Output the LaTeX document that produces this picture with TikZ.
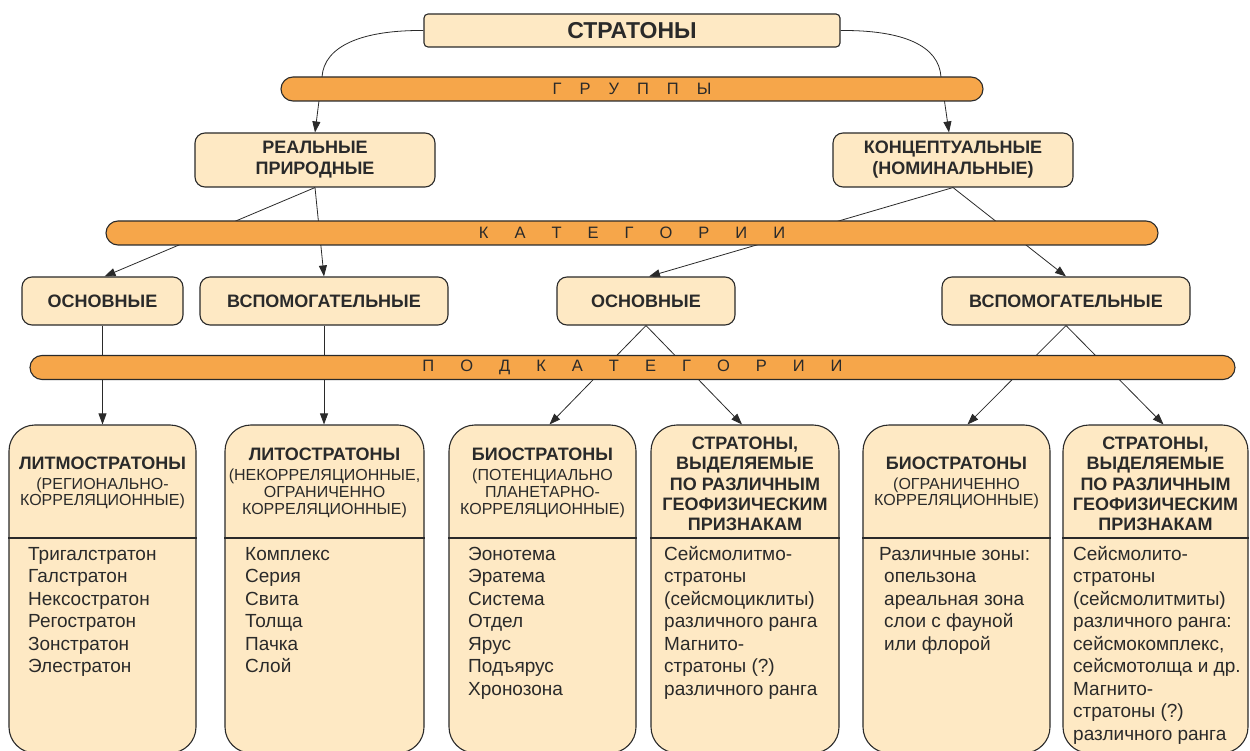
\documentclass[tikz,border=0pt]{standalone}
\usepackage{fontspec}
\setmainfont{Liberation Sans}
\usetikzlibrary{arrows.meta}
\definecolor{boxfill}{HTML}{FEE9C4}
\definecolor{barfill}{HTML}{F6A64A}
\definecolor{ink}{HTML}{2A2A2A}
\pgfdeclarelayer{links}
\pgfsetlayers{links,main}
\newcommand\hd{\bfseries\fontsize{18}{21}\selectfont}
\newcommand\hdb{\bfseries\fontsize{18}{20.3}\selectfont}
\newcommand\sub{\fontsize{16}{16.8}\selectfont}
\newcommand\lst{\fontsize{19}{22.5}\selectfont}
\newcommand\barlbl{\fontsize{16.5}{18}\selectfont}
\newcommand\firstline{\rule{0pt}{14pt}}

\begin{document}
\begin{tikzpicture}[x=1pt,y=-1pt,
  box/.style={draw=ink, line width=1.1pt, fill=boxfill, rounded corners=10pt,
    inner sep=0pt, align=center, text=ink, font=\hd},
  colbox/.style={draw=ink, line width=1.1pt, fill=boxfill, rounded corners=26pt,
    inner sep=0pt, minimum height=328pt},
  bar/.style={draw=ink, line width=1.1pt, fill=barfill, rounded corners=12pt,
    inner sep=0pt, minimum height=24pt, text=ink, font=\barlbl},
  head/.style={inner sep=0pt, align=center, text=ink, font=\sub},
  list/.style={inner sep=0pt, align=left, anchor=north west, text=ink, font=\lst},
  conn/.style={draw=ink, line width=0.8pt},
  arr/.style={conn, -{Triangle[length=11pt,width=8pt]}}]
\useasboundingbox (0,0) rectangle (1250,751);

% top level
\node[box, rounded corners=4pt, minimum width=416pt, minimum height=33pt,
  font=\bfseries\fontsize{23}{25}\selectfont] (top) at (632,30.5) {СТРАТОНЫ};

% bars
\node[bar, minimum width=702pt] (grp) at (632,89)
  {Г\hspace{18pt}Р\hspace{18pt}У\hspace{18pt}П\hspace{18pt}П\hspace{18pt}Ы};
\node[bar, minimum width=1052pt] (cat) at (632,233)
  {К\hspace{26pt}А\hspace{26pt}Т\hspace{26pt}Е\hspace{26pt}Г\hspace{26pt}О\hspace{26pt}Р\hspace{26pt}И\hspace{26pt}И};
\node[bar, minimum width=1205pt] (subcat) at (632.5,367.5)
  {П\hspace{26pt}О\hspace{26pt}Д\hspace{26pt}К\hspace{26pt}А\hspace{26pt}Т\hspace{26pt}Е\hspace{26pt}Г\hspace{26pt}О\hspace{26pt}Р\hspace{26pt}И\hspace{26pt}И};

% groups
\node[box, minimum width=240pt, minimum height=54pt] (real) at (315,160)
  {РЕАЛЬНЫЕ\\ПРИРОДНЫЕ};
\node[box, minimum width=240pt, minimum height=54pt] (konc) at (953,160)
  {КОНЦЕПТУАЛЬНЫЕ\\(НОМИНАЛЬНЫЕ)};

% categories
\node[box, minimum width=161pt, minimum height=48pt] (osnA) at (102.5,301) {ОСНОВНЫЕ};
\node[box, minimum width=248pt, minimum height=48pt] (vspA) at (324,301) {ВСПОМОГАТЕЛЬНЫЕ};
\node[box, minimum width=178pt, minimum height=48pt] (osnB) at (646,301) {ОСНОВНЫЕ};
\node[box, minimum width=248pt, minimum height=48pt] (vspB) at (1066,301) {ВСПОМОГАТЕЛЬНЫЕ};

% subcategory columns
\node[colbox, minimum width=187pt] (c1) at (102.5,589) {};
\node[colbox, minimum width=199pt] (c2) at (324.5,589) {};
\node[colbox, minimum width=187pt] (c3) at (542.5,589) {};
\node[colbox, minimum width=188pt] (c4) at (745,589) {};
\node[colbox, minimum width=187pt] (c5) at (956.5,589) {};
\node[colbox, minimum width=185pt] (c6) at (1155.5,589) {};

\foreach \c in {c1,c2,c3,c4,c5,c6}
  \draw[conn, line width=1.1pt] (\c.west |- 0,538) -- (\c.east |- 0,538);

% column headings
\node[head] (h1) at (102.5,483) {{\hd ЛИТМОСТРАТОНЫ}\\[3pt](РЕГИОНАЛЬНО-\\КОРРЕЛЯЦИОННЫЕ)};
\node[head] (h2) at (324.5,483) {{\hd ЛИТОСТРАТОНЫ}\\[3pt](НЕКОРРЕЛЯЦИОННЫЕ,\\ОГРАНИЧЕННО\\КОРРЕЛЯЦИОННЫЕ)};
\node[head] (h3) at (542.5,483) {{\hd БИОСТРАТОНЫ}\\[3pt](ПОТЕНЦИАЛЬНО\\ПЛАНЕТАРНО-\\КОРРЕЛЯЦИОННЫЕ)};
\node[head, font=\hdb] (h4) at (745,484) {СТРАТОНЫ,\\ВЫДЕЛЯЕМЫЕ\\ПО РАЗЛИЧНЫМ\\ГЕОФИЗИЧЕСКИМ\\ПРИЗНАКАМ};
\node[head] (h5) at (956.5,483) {{\hd БИОСТРАТОНЫ}\\[3pt](ОГРАНИЧЕННО\\КОРРЕЛЯЦИОННЫЕ)};
\node[head, font=\hdb] (h6) at (1155.5,484) {СТРАТОНЫ,\\ВЫДЕЛЯЕМЫЕ\\ПО РАЗЛИЧНЫМ\\ГЕОФИЗИЧЕСКИМ\\ПРИЗНАКАМ};

% column lists
\node[list] (l1) at (28,546) {\firstline Тригалстратон\\Галстратон\\Нексостратон\\Регостратон\\Зонстратон\\Элестратон};
\node[list] (l2) at (245,546) {\firstline Комплекс\\Серия\\Свита\\Толща\\Пачка\\Слой};
\node[list] (l3) at (468,546) {\firstline Эонотема\\Эратема\\Система\\Отдел\\Ярус\\Подъярус\\Хронозона};
\node[list] (l4) at (664,546) {\firstline Сейсмолитмо-\\стратоны\\(сейсмоциклиты)\\различного ранга\\Магнито-\\стратоны (?)\\различного ранга};
\node[list] (l5) at (879,546) {\firstline Различные зоны:\\\hspace*{5pt}опельзона\\\hspace*{5pt}ареальная зона\\\hspace*{5pt}слои с фауной\\\hspace*{5pt}или флорой};
\node[list] (l6) at (1073,546) {\firstline Сейсмолито-\\стратоны\\(сейсмолитмиты)\\различного ранга:\\сейсмокомплекс,\\сейсмотолща и др.\\Магнито-\\стратоны (?)\\различного ранга};

% connectors, kept beneath the bars
\coordinate (gL) at (322,77);
\coordinate (gR) at (941,77);
\begin{pgfonlayer}{links}
  \draw[arr] (top.west) .. controls (362,30) and (324,46) .. (gL) -- (real.north);
  \draw[arr] (top.east) .. controls (904,30) and (939,46) .. (gR) -- ([xshift=-4pt]konc.north);
  \draw[arr] (real.south) -- ([xshift=2pt]osnA.north);
  \draw[arr] (real.south) -- (vspA.north);
  \draw[arr] (konc.south) -- ([xshift=3pt]osnB.north);
  \draw[arr] (konc.south) -- (vspB.north);
  \draw[arr] (osnA.south) -- (c1.north);
  \draw[arr] (vspA.south) -- (vspA.south |- c2.north);
  \draw[arr] (osnB.south) -- ([xshift=7pt]c3.north);
  \draw[arr] (osnB.south) -- ([xshift=-3pt]c4.north);
  \draw[arr] (vspB.south) -- ([xshift=11pt]c5.north);
  \draw[arr] (vspB.south) -- ([xshift=8pt]c6.north);
\end{pgfonlayer}
\end{tikzpicture}
\end{document}
